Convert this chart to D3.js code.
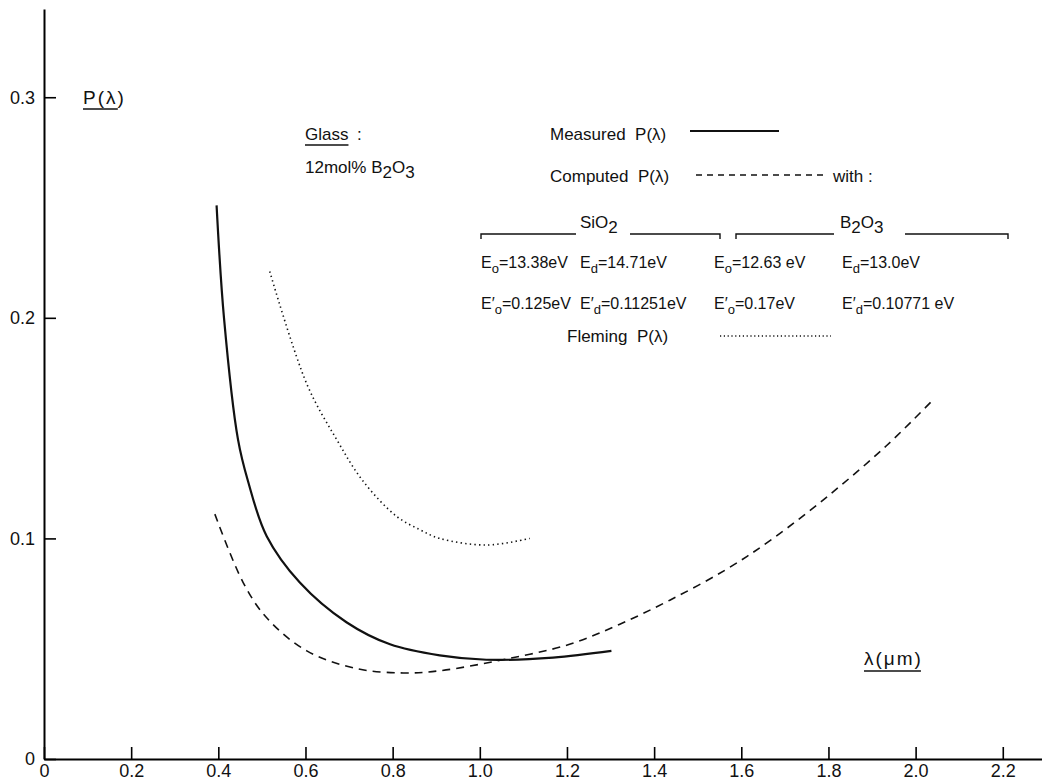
<!DOCTYPE html>
<html lang="en">
<head>
<meta charset="UTF-8">
<title>P(lambda) - 12 mol% B2O3 glass</title>
<script src="https://d3js.org/d3.v7.min.js"></script>
<style>
  body { margin: 0; background: #fff; }
  text { font-family: "Liberation Sans", Arial, sans-serif; fill: #111; white-space: pre; }
</style>
</head>
<body>
<div id="chart"></div>
<script>
// values (lambda in um, P dimensionless)
const measuredLambda = [0.396, 0.413, 0.445, 0.468, 0.511, 0.587, 0.694, 0.794, 0.908, 1.015, 1.168, 1.302];
const measuredP      = [0.251, 0.200, 0.145, 0.126, 0.101, 0.080, 0.062, 0.052, 0.047, 0.045, 0.046, 0.049];

const computedLambda = [0.392, 0.457, 0.511, 0.603, 0.717, 0.824, 0.908, 1.053, 1.206, 1.320, 1.436, 1.566, 1.673, 1.810, 1.933, 2.036];
const computedP      = [0.111, 0.080, 0.064, 0.049, 0.041, 0.039, 0.040, 0.045, 0.052, 0.061, 0.072, 0.086, 0.100, 0.121, 0.142, 0.162];

const flemingLambda = [0.518, 0.603, 0.671, 0.732, 0.809, 0.862, 0.908, 1.015, 1.115];
const flemingP      = [0.221, 0.170, 0.145, 0.126, 0.110, 0.104, 0.100, 0.097, 0.100];

const xTicks = [0, 0.2, 0.4, 0.6, 0.8, 1.0, 1.2, 1.4, 1.6, 1.8, 2.0, 2.2];
const yTicks = [0, 0.1, 0.2, 0.3];

const W = 1042, H = 783;
const x = d3.scaleLinear().domain([0, 2.29]).range([44, 1042]);
const y = d3.scaleLinear().domain([0, 0.34]).range([759, 9]);

const svg = d3.select("#chart").append("svg")
  .attr("width", W).attr("height", H);

const fmt = d => d === 0 ? "0" : d3.format(".1f")(d);

// axes: ticks pointing into the plot
svg.append("g")
  .attr("transform", `translate(0,${y(0)})`)
  .call(d3.axisBottom(x).tickValues(xTicks).tickSizeInner(-12).tickSizeOuter(0).tickPadding(5).tickFormat(fmt))
  .call(g => g.select(".domain").attr("stroke-width", 2))
  .call(g => g.selectAll(".tick line").attr("stroke-width", 1.6))
  .call(g => g.selectAll(".tick text").style("font-size", "18px").attr("fill", "#111"));

svg.append("g")
  .attr("transform", `translate(${x(0)},0)`)
  .call(d3.axisLeft(y).tickValues(yTicks).tickSizeInner(-12).tickSizeOuter(0).tickPadding(9).tickFormat(fmt))
  .call(g => g.select(".domain").attr("stroke-width", 2))
  .call(g => g.selectAll(".tick line").attr("stroke-width", 1.6))
  .call(g => g.selectAll(".tick text").style("font-size", "18px").attr("fill", "#111"));

// curves
const line = d3.line().x(d => x(d[0])).y(d => y(d[1])).curve(d3.curveCatmullRom.alpha(0.5));
const zip = (a, b) => a.map((v, i) => [v, b[i]]);

svg.append("path").datum(zip(measuredLambda, measuredP))
  .attr("d", line).attr("fill", "none").attr("stroke", "#111").attr("stroke-width", 2.2);
svg.append("path").datum(zip(computedLambda, computedP))
  .attr("d", line).attr("fill", "none").attr("stroke", "#111").attr("stroke-width", 1.6)
  .attr("stroke-dasharray", "8,6");
svg.append("path").datum(zip(flemingLambda, flemingP))
  .attr("d", line).attr("fill", "none").attr("stroke", "#111").attr("stroke-width", 1.6)
  .attr("stroke-dasharray", "1.4,3.2");

// labels
const fs = "17px";
function label(tx, ty, str, size, underline) {
  const t = svg.append("text").attr("x", tx).attr("y", ty).style("font-size", size || fs).text(str);
  if (underline) {
    const bb = t.node().getBBox();
    svg.append("line").attr("x1", bb.x).attr("x2", bb.x + bb.width)
      .attr("y1", ty + 5).attr("y2", ty + 5).attr("stroke", "#111").attr("stroke-width", 1.4);
  }
  return t;
}

label(83, 104, "P(λ)", "19px", true).style("letter-spacing", "2px");
label(305, 140, "Glass", "17px", true);
svg.append("text").attr("x", 357).attr("y", 140).style("font-size", fs).text(":");

const glass = svg.append("text").attr("x", 305).attr("y", 173).style("font-size", fs);
glass.append("tspan").text("12mol% B");
glass.append("tspan").attr("dy", 5).text("2");
glass.append("tspan").attr("dy", -5).text("O");
glass.append("tspan").attr("dy", 5).text("3");

// legend
label(550, 140, "Measured  P(λ)");
svg.append("line").attr("x1", 690).attr("x2", 779).attr("y1", 131).attr("y2", 131)
  .attr("stroke", "#111").attr("stroke-width", 2);

label(550, 182, "Computed  P(λ)");
svg.append("line").attr("x1", 696).attr("x2", 825).attr("y1", 175).attr("y2", 175)
  .attr("stroke", "#111").attr("stroke-width", 1.3).attr("stroke-dasharray", "6,5");
label(833, 182, "with :");

label(567, 342, "Fleming  P(λ)");
svg.append("line").attr("x1", 720).attr("x2", 831).attr("y1", 336).attr("y2", 336)
  .attr("stroke", "#111").attr("stroke-width", 1.3).attr("stroke-dasharray", "1.2,2.6");

// group brackets
function bracket(x1, x2, tx1, tx2, yb) {
  const g = svg.append("g").attr("stroke", "#111").attr("stroke-width", 1.4).attr("fill", "none");
  g.append("path").attr("d", `M${x1},${yb + 5}V${yb}H${tx1}`);
  g.append("path").attr("d", `M${tx2},${yb}H${x2}V${yb + 5}`);
}
bracket(481, 720, 576, 630, 234);
bracket(736, 1008, 834, 905, 234);

const sio2 = svg.append("text").attr("x", 580).attr("y", 228).style("font-size", fs);
sio2.append("tspan").text("SiO");
sio2.append("tspan").attr("dy", 5).text("2");
const b2o3 = svg.append("text").attr("x", 840).attr("y", 228).style("font-size", fs);
b2o3.append("tspan").text("B");
b2o3.append("tspan").attr("dy", 5).text("2");
b2o3.append("tspan").attr("dy", -5).text("O");
b2o3.append("tspan").attr("dy", 5).text("3");

// parameter table
const params = [
  {col: 481, row: 0, sub: "o", prime: false, val: "=13.38eV"},
  {col: 580, row: 0, sub: "d", prime: false, val: "=14.71eV"},
  {col: 714, row: 0, sub: "o", prime: false, val: "=12.63 eV"},
  {col: 842, row: 0, sub: "d", prime: false, val: "=13.0eV"},
  {col: 481, row: 1, sub: "o", prime: true, val: "=0.125eV"},
  {col: 580, row: 1, sub: "d", prime: true, val: "=0.11251eV"},
  {col: 714, row: 1, sub: "o", prime: true, val: "=0.17eV"},
  {col: 842, row: 1, sub: "d", prime: true, val: "=0.10771 eV"}
];
const rowY = [268, 309];
params.forEach(p => {
  const t = svg.append("text").attr("x", p.col).attr("y", rowY[p.row]).style("font-size", "16px");
  t.append("tspan").text(p.prime ? "E′" : "E");
  t.append("tspan").attr("dy", 5).style("font-size", "13px").text(p.sub);
  t.append("tspan").attr("dy", -5).text(p.val);
});

// x axis title
const xt = svg.append("text").attr("x", 864).attr("y", 665).style("font-size", "19px")
  .style("letter-spacing", "2px").text("λ(μm)");
const xb = xt.node().getBBox();
svg.append("line").attr("x1", xb.x).attr("x2", xb.x + xb.width - 2)
  .attr("y1", 671).attr("y2", 671).attr("stroke", "#111").attr("stroke-width", 1.4);
</script>
</body>
</html>
